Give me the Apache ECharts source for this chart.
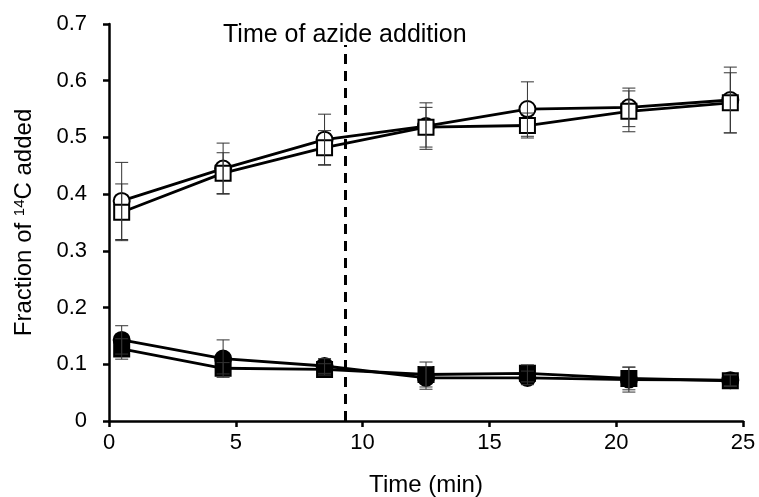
<!DOCTYPE html>
<html>
<head>
<meta charset="utf-8">
<script src="https://cdn.jsdelivr.net/npm/echarts@6/dist/echarts.min.js"></script>
<style>
  html, body { margin: 0; padding: 0; background: #fff; }
  #chart { width: 759px; height: 497px; }
</style>
</head>
<body>
<div id="chart"></div>
<script>
// sampling times (min)
var times = [0.5, 4.5, 8.5, 12.5, 16.5, 20.5, 24.5];
// open symbols
var openCircle = [0.388, 0.445, 0.496, 0.520, 0.550, 0.553, 0.566];
var openCircleErr = [0.068, 0.045, 0.045, 0.041, 0.048, 0.034, 0.058];
var openSquare = [0.368, 0.437, 0.482, 0.518, 0.521, 0.546, 0.561];
var openSquareErr = [0.050, 0.036, 0.030, 0.035, 0.022, 0.036, 0.053];
// filled symbols
var fillCircle = [0.143, 0.110, 0.097, 0.076, 0.076, 0.073, 0.072];
var fillCircleErr = [0.025, 0.033, 0.013, 0.020, 0.012, 0.022, 0.010];
var fillSquare = [0.127, 0.093, 0.091, 0.082, 0.084, 0.075, 0.071];
var fillSquareErr = [0.018, 0.010, 0.010, 0.022, 0.015, 0.020, 0.010];
var azideTime = 9.3;

var font = 'Liberation Sans, Arial, sans-serif';

function pairs(ys) {
  var arr = [];
  for (var i = 0; i < times.length; i++) {
    arr.push([times[i], ys[i]]);
  }
  return arr;
}

function errData(ys, errs) {
  var arr = [];
  for (var i = 0; i < times.length; i++) {
    arr.push([times[i], ys[i] - errs[i], ys[i] + errs[i]]);
  }
  return arr;
}

// error bars with caps
function renderErr(params, api) {
  var lo = api.coord([api.value(0), api.value(1)]);
  var hi = api.coord([api.value(0), api.value(2)]);
  var w = 6.5;
  var st = { stroke: '#333', lineWidth: 1 };
  return {
    type: 'group',
    children: [
      { type: 'line', shape: { x1: lo[0], y1: lo[1], x2: hi[0], y2: hi[1] }, style: st },
      { type: 'line', shape: { x1: lo[0] - w, y1: lo[1], x2: lo[0] + w, y2: lo[1] }, style: st },
      { type: 'line', shape: { x1: hi[0] - w, y1: hi[1], x2: hi[0] + w, y2: hi[1] }, style: st }
    ]
  };
}

function lineSeries(name, ys, symbol, size, filled) {
  return {
    name: name,
    type: 'line',
    data: pairs(ys),
    symbol: symbol,
    symbolSize: size,
    showAllSymbol: true,
    lineStyle: { color: '#000', width: 2.8 },
    itemStyle: { color: filled ? '#000' : '#fff', borderColor: '#000', borderWidth: 2 },
    z: 3
  };
}

function errSeries(ys, errs) {
  return {
    type: 'custom',
    renderItem: renderErr,
    data: errData(ys, errs),
    encode: { x: 0, y: [1, 2] },
    z: 4,
    silent: true
  };
}

var myChart = echarts.init(document.getElementById('chart'));
var option = {
  backgroundColor: '#fff',
  animation: false,
  grid: { left: 109, right: 16, top: 24, bottom: 76, outerBoundsMode: 'none', containLabel: false },
  xAxis: {
    type: 'value',
    min: 0, max: 25, interval: 5,
    name: 'Time (min)',
    nameLocation: 'middle',
    nameGap: 52,
    nameTextStyle: { fontFamily: font, fontSize: 24, color: '#000' },
    axisLine: { lineStyle: { color: '#000', width: 2.5 } },
    axisTick: { show: true, length: 6, lineStyle: { color: '#000', width: 2.5 } },
    axisLabel: { fontFamily: font, fontSize: 22, color: '#000', margin: 11 },
    splitLine: { show: false }
  },
  yAxis: {
    type: 'value',
    min: 0, max: 0.7, interval: 0.1,
    name: '{n|Fraction of }{s|14}{n|C added}',
    nameLocation: 'middle',
    nameGap: 73,
    nameTextStyle: {
      fontFamily: font, color: '#000',
      rich: {
        n: { fontFamily: font, fontSize: 24, color: '#000' },
        s: { fontFamily: font, fontSize: 15, color: '#000', verticalAlign: 'top', padding: [0, 0, 9, 0] }
      }
    },
    axisLine: { show: true, lineStyle: { color: '#000', width: 2.5 } },
    axisTick: { show: true, length: 6, lineStyle: { color: '#000', width: 2.5 } },
    axisLabel: {
      fontFamily: font, fontSize: 22, color: '#000', margin: 22,
      formatter: function (v) { return v === 0 ? '0' : v.toFixed(1); }
    },
    splitLine: { show: false }
  },
  series: [
    lineSeries('open circle', openCircle, 'circle', 16, false),
    lineSeries('open square', openSquare, 'rect', 15, false),
    lineSeries('filled circle', fillCircle, 'circle', 16, true),
    lineSeries('filled square', fillSquare, 'rect', 15, true),
    errSeries(openCircle, openCircleErr),
    errSeries(openSquare, openSquareErr),
    errSeries(fillCircle, fillCircleErr),
    errSeries(fillSquare, fillSquareErr),
    {
      type: 'line',
      data: [],
      markLine: {
        silent: true,
        symbol: 'none',
        lineStyle: { color: '#000', width: 3, type: [10, 7] },
        label: {
          show: true, position: 'end', distance: -3,
          formatter: 'Time of azide addition',
          fontFamily: font, fontSize: 25, color: '#000'
        },
        data: [[{ coord: [azideTime, 0] }, { coord: [azideTime, 0.663] }]]
      }
    }
  ]
};
myChart.setOption(option);
</script>
</body>
</html>
